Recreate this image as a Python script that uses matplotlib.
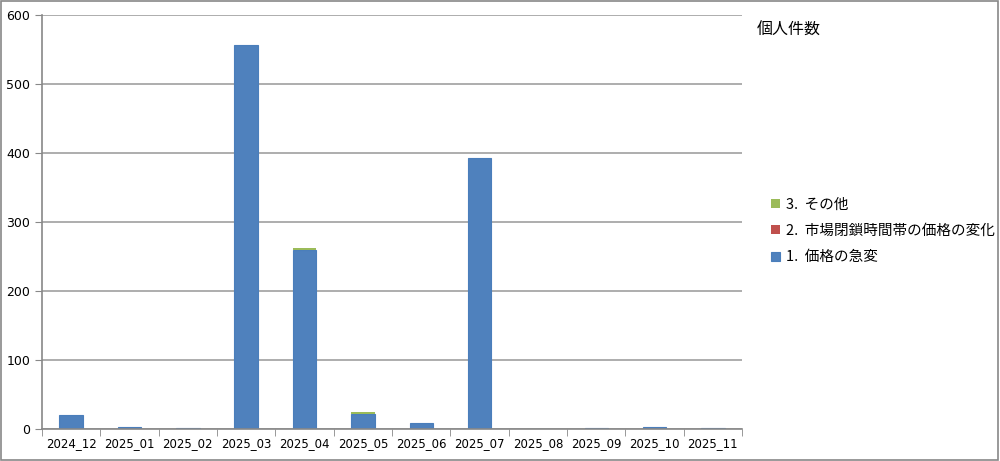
import numpy as np
import matplotlib.pyplot as plt
from matplotlib.patches import Rectangle

plt.rcParams['font.family'] = ['Noto Sans CJK JP', 'DejaVu Sans']

# data
months = ['2024_12', '2025_01', '2025_02', '2025_03', '2025_04', '2025_05',
          '2025_06', '2025_07', '2025_08', '2025_09', '2025_10', '2025_11']
sudden = [21, 3, 1, 556, 260, 22, 8, 393, 0, 1, 3, 1]
closed = [0, 0, 0, 0, 0, 0, 0, 0, 0, 0, 0, 0]
other = [0, 0, 0, 0, 2, 2, 0, 0, 0, 0, 0, 0]
labels = ['1.  価格の急変', '2.  市場閉鎖時間帯の価格の変化', '3.  その他']
colors = ['#4f81bd', '#c0504d', '#9bbb59']

fig = plt.figure(figsize=(10, 4.61), dpi=100)
ax = fig.add_axes([0.042, (461 - 429) / 461, 0.700, (429 - 15) / 461])

x = np.arange(len(months))
b1 = ax.bar(x, sudden, width=0.4, color=colors[0], edgecolor='#4a7ebb', linewidth=0.8)
b2 = ax.bar(x, closed, width=0.4, bottom=sudden, color=colors[1])
bottom2 = np.array(sudden) + np.array(closed)
b3 = ax.bar(x, other, width=0.4, bottom=bottom2, color=colors[2])

ax.set_xlim(-0.5, len(months) - 0.5)
ax.set_ylim(0, 600)
ax.set_yticks(range(0, 601, 100))
ax.yaxis.grid(True, color='#a0a0a0', linewidth=1.2)
ax.set_axisbelow(True)

ax.set_xticks(x)
ax.set_xticklabels(months, fontsize=8.5, family=['DejaVu Sans'])
ax.set_xticks(np.arange(-0.5, len(months)), minor=True)
ax.tick_params(axis='x', which='major', length=0, pad=6)
ax.tick_params(axis='x', which='minor', length=5, color='#888888', direction='out')
ax.tick_params(axis='y', length=5, color='#888888', labelsize=9)
for lab in ax.get_yticklabels():
    lab.set_family(['DejaVu Sans'])

for s in ['top', 'right']:
    ax.spines[s].set_visible(False)
for s in ['left', 'bottom']:
    ax.spines[s].set_color('#888888')
    ax.spines[s].set_linewidth(1.2)

handles = [b3, b2, b1]
leg = fig.legend(handles, labels[::-1], loc='upper left', bbox_to_anchor=(0.758, 0.6),
                 frameon=False, fontsize=10.5, handlelength=0.6, handleheight=0.6,
                 handletextpad=0.4, labelspacing=0.85)

fig.text(0.757, 0.935, '個人件数', fontsize=11.5, va='center', ha='left')

fig.patches.append(Rectangle((0.001, 0.002), 0.997, 0.995, transform=fig.transFigure,
                             fill=False, edgecolor='#888888', linewidth=1.2))

fig.savefig('out.png', dpi=100)
